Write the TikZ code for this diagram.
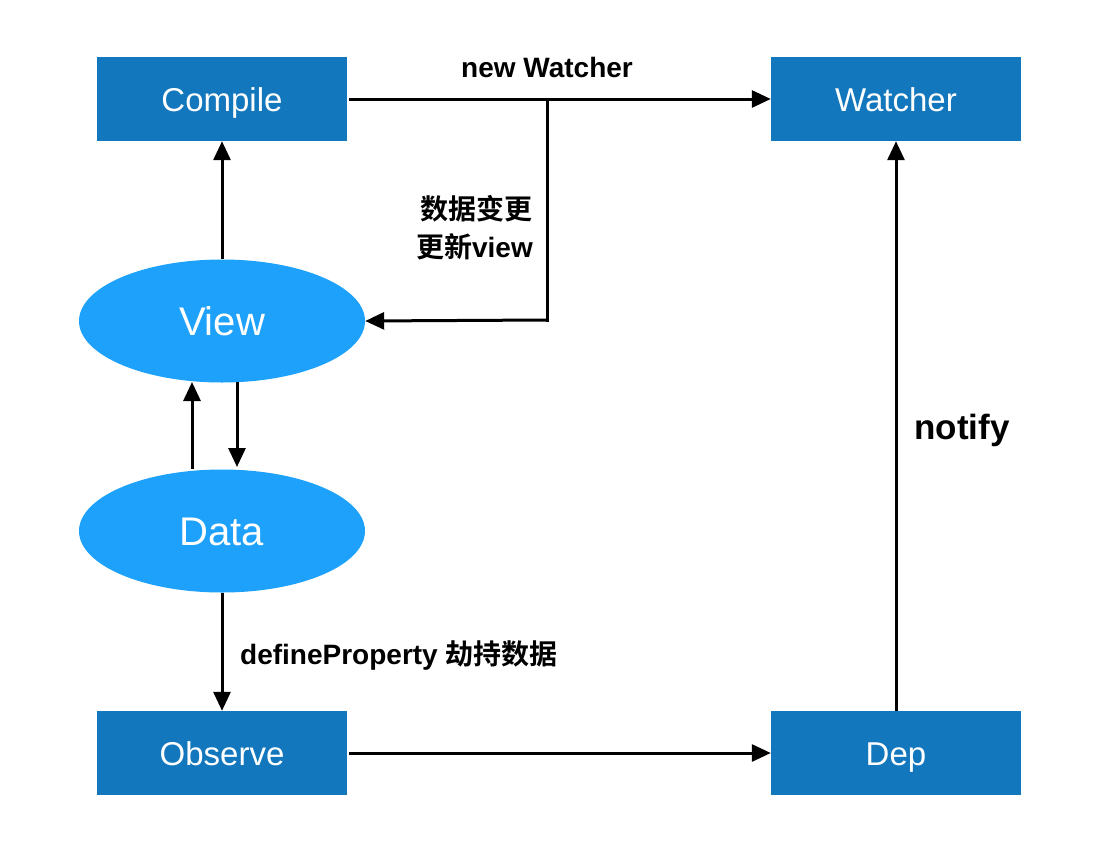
\documentclass[tikz,border=0pt]{standalone}
\usepackage{fontspec}
\setmainfont{Liberation Sans}
\newfontfamily\cjk{Noto Sans CJK SC}[BoldFont={* Bold}]
\usetikzlibrary{arrows.meta,shapes.geometric}
\definecolor{boxblue}{RGB}{19,119,189}
\definecolor{ellblue}{RGB}{29,161,250}
\tikzset{
  rbox/.style={fill=boxblue,draw=none,minimum width=250pt,minimum height=84pt,inner sep=0pt,text=white,font=\fontsize{33}{36}\selectfont,text height=24pt,text depth=0pt},
  rell/.style={ellipse,fill=ellblue,draw=none,minimum width=286pt,minimum height=123pt,inner sep=0pt,text=white,font=\fontsize{40}{44}\selectfont,text height=29pt,text depth=0pt},
  conn/.style={line width=3pt,-{Triangle[length=19pt,width=17pt]}},
  plainline/.style={line width=3pt},
  lbl/.style={font=\bfseries\fontsize{28}{38}\selectfont,inner sep=0pt}
}
\begin{document}
\begin{tikzpicture}[x=1pt,y=-1pt]
\useasboundingbox (0,0) rectangle (1108,846);
\node[rbox] (compile) at (222,99) {Compile};
\node[rbox] (watcher) at (896,99) {Watcher};
\node[rbox] (observe) at (222,753) {Observe};
\node[rbox] (dep) at (896,753) {Dep};
\node[rell] (view) at (222,321) {View};
\node[rell] (data) at (222,531) {Data};
\coordinate (j1) at (547,99);
\coordinate (j2) at (547,320);
\coordinate (du) at (192,469);
\coordinate (vu) at (192,382);
\coordinate (vd) at (237,382);
\coordinate (dd) at (237,467);
\draw[conn] ([xshift=2pt]compile.east) -- (watcher.west);
\draw[plainline,line cap=rect] (j1) -- (j2);
\draw[conn] (j2) -- (view.east);
\draw[conn] (view.north) -- (compile.south);
\draw[conn] (du) -- (vu);
\draw[conn] (vd) -- (dd);
\draw[conn] (data.south) -- (observe.north);
\draw[conn] ([xshift=2pt]observe.east) -- (dep.west);
\draw[conn] (dep.north) -- (watcher.south);
\node[lbl] (l1) at (547,67) {new Watcher};
\node[lbl,align=right,anchor=east] (l2) at (533,228) {\cjk\bfseries 数据变更\\\cjk\bfseries 更新\rmfamily\bfseries view};
\node[lbl,anchor=west] (l3) at (240,655) {defineProperty {\cjk\bfseries 劫持数据}};
\node[lbl,font=\bfseries\fontsize{35}{40}\selectfont] (l4) at (962,430) {notify};
\end{tikzpicture}
\end{document}
